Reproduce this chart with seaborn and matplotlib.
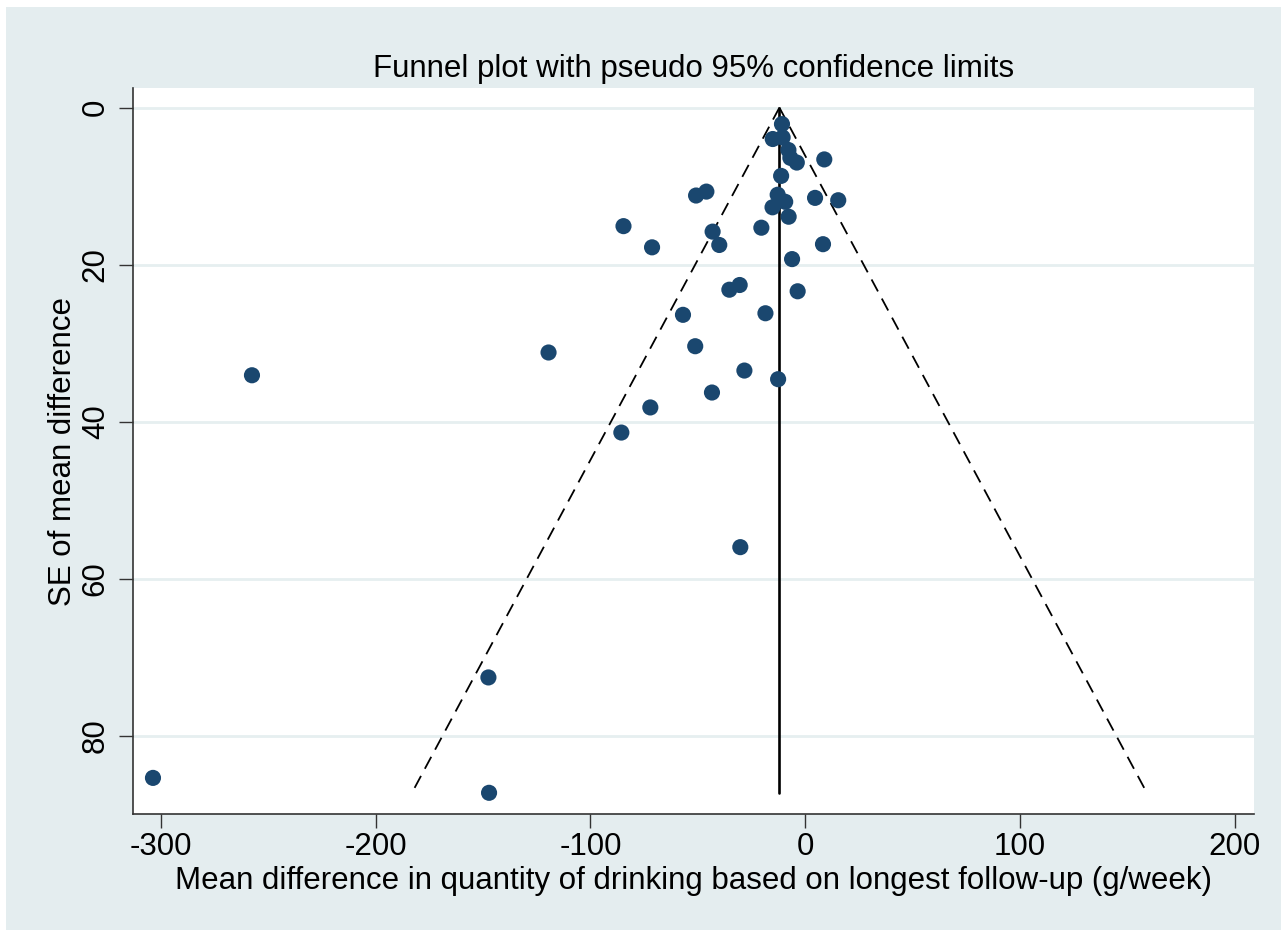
import numpy as np
import pandas as pd
import seaborn as sns
import matplotlib.pyplot as plt
from matplotlib.patches import Rectangle

# 각 연구의 평균 차이(g/week)와 표준오차
mean_diff = [
    -10.8, -15.1, -10.5, -7.8, -6.9, -3.9, 8.9, -11.2,
    -50.8, -46.0, -12.8, -9.3, -15.2, 4.6, 15.4, -7.7,
    -84.6, -71.3, -43.1, -40.0, -20.4, 8.3, -6.1,
    -35.3, -30.5, -3.5, -56.9, -18.5,
    -119.5, -51.2, -28.3, -12.6, -43.4, -72.1, -85.6, -257.6,
    -30.2, -147.5, -303.7, -147.2,
]
se_diff = [
    2.1, 4.0, 3.8, 5.4, 6.4, 7.0, 6.6, 8.7,
    11.2, 10.7, 11.1, 12.0, 12.7, 11.5, 11.8, 13.9,
    15.1, 17.8, 15.8, 17.5, 15.3, 17.4, 19.3,
    23.2, 22.6, 23.4, 26.4, 26.2,
    31.2, 30.4, 33.5, 34.6, 36.3, 38.2, 41.4, 34.1,
    56.0, 72.6, 85.4, 87.3,
]
pooled_md = -12.0
se_max = 87.3
z95 = 1.96

x_ticks = [-300, -200, -100, 0, 100, 200]
y_ticks = [0, 20, 40, 60, 80]

title = "Funnel plot with pseudo 95% confidence limits"
x_label = "Mean difference in quantity of drinking based on longest follow-up (g/week)"
y_label = "SE of mean difference"

df = pd.DataFrame({"md": mean_diff, "se": se_diff})

sns.set_theme(style="white")
plt.rcParams["font.family"] = ["Liberation Sans", "DejaVu Sans"]
plt.rcParams["axes.unicode_minus"] = False
plt.rcParams["text.color"] = "black"
plt.rcParams["axes.labelcolor"] = "black"
plt.rcParams["xtick.color"] = "black"
plt.rcParams["ytick.color"] = "black"

bg = "#e4edef"
fig = plt.figure(figsize=(12.85, 9.34), dpi=100, facecolor="white")
fig.patches.append(Rectangle((6 / 1285, 0.004), 1 - 10 / 1285, 1 - 7 / 934 - 0.004,
                             transform=fig.transFigure, facecolor=bg,
                             edgecolor="none", zorder=-1))
ax = fig.add_axes([133 / 1285, 1 - 814 / 934, (1254 - 133) / 1285, (814 - 88) / 934])
ax.set_facecolor("white")

# 가로 격자선
for t in y_ticks:
    ax.axhline(t, color="#e6eff0", lw=2, zorder=0)

# 95% 유사 신뢰한계 (깔때기)
se_line = np.array([0, se_max])
ax.plot(pooled_md - z95 * se_line, se_line, color="black", lw=1.3,
        dashes=(7.5, 4.5), zorder=2)
ax.plot(pooled_md + z95 * se_line, se_line, color="black", lw=1.3,
        dashes=(7.5, 4.5), zorder=2)
ax.plot([pooled_md, pooled_md], se_line, color="black", lw=1.9, zorder=2)

sns.scatterplot(data=df, x="md", y="se", ax=ax, s=135, color="#1a476f",
                edgecolor="none", linewidth=0, zorder=3)

ax.set_xlim(-313, 209)
ax.set_ylim(90, -2.5)
ax.set_xticks(x_ticks)
ax.set_yticks(y_ticks)
ax.set_yticklabels([str(t) for t in y_ticks], rotation=90, va="center")
ax.tick_params(axis="both", direction="out", length=10, width=1,
               color="#333333", labelsize=22.5, labelcolor="black",
               pad=6, bottom=True, left=True)
ax.tick_params(axis="x", pad=3)

for side in ["top", "right"]:
    ax.spines[side].set_visible(False)
for side in ["left", "bottom"]:
    ax.spines[side].set_color("#333333")
    ax.spines[side].set_linewidth(1.2)

ax.set_xlabel(x_label, fontsize=22.5, labelpad=3)
ax.set_ylabel(y_label, fontsize=22.5, labelpad=2)
ax.set_title(title, fontsize=22.5, pad=8)

fig.savefig("out.png", dpi=100, facecolor=fig.get_facecolor())
